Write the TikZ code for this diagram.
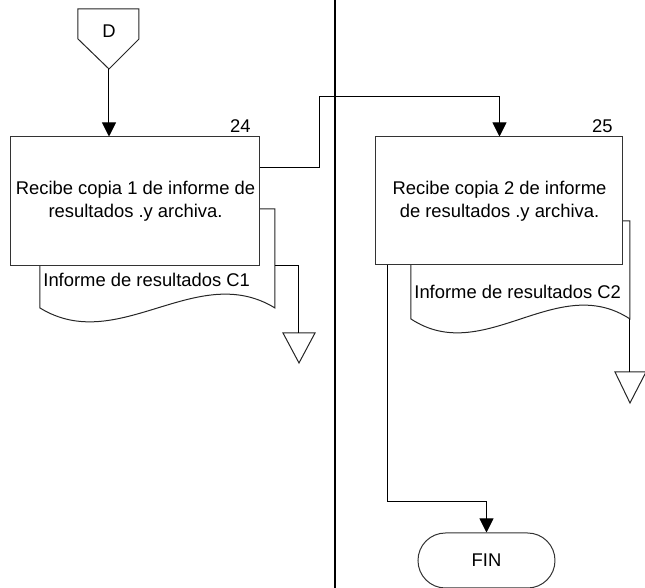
\documentclass[tikz,border=0pt]{standalone}
\usepackage{fontspec}
\setmainfont{Liberation Sans}
\usetikzlibrary{arrows.meta}
\begin{document}
\begin{tikzpicture}[x=0.5pt,y=-0.5pt,
  every node/.style={font=\fontsize{9.2pt}{11.5pt}\selectfont},
  procbox/.style={draw=black!80,fill=white,line width=0.5pt,inner sep=0pt,align=center},
  shp/.style={draw=black!85,fill=white,line width=0.5pt},
  conn/.style={draw=black,line width=0.5pt},
  arr/.style={conn,-{Triangle[length=7pt,width=7pt]}},
  lane/.style={draw=black,line width=1.1pt},
  lbl/.style={inner sep=0pt}]
\useasboundingbox (0,0) rectangle (645,588);
% swimlane divider
\coordinate (laneT) at (335,0);
\coordinate (laneB) at (335,588);
\draw[lane] (laneT) -- (laneB);
% off-page connector D
\draw[shp] (78,9) -- (139,9) -- (139,39) -- (109,69) -- (78,39) -- cycle;
\node[lbl] (D) at (109,31) {D};
\coordinate (Dtip) at (109,69);
% document 1 (behind box 1)
\draw[shp] (40,209) -- (275,209) -- (275,308)
  .. controls (196.7,260) and (118.3,356) .. (40,308) -- cycle;
\node[lbl,anchor=west] (doc1) at (43,280) {Informe de resultados C1};
\coordinate (doc1R) at (275,266);
% document 2 (behind box 2)
\draw[shp] (411,221) -- (630,221) -- (630,319)
  .. controls (557,271) and (484,367) .. (411,319) -- cycle;
\node[lbl,anchor=west] (doc2) at (414,292) {Informe de resultados C2};
\coordinate (doc2R) at (630,319);
% process boxes
\node[procbox,minimum width=124.5pt,minimum height=64.5pt] (b1) at (135.5,201.5)
  {Recibe copia 1 de informe de\\resultados .y archiva.};
\node[lbl,anchor=south east] (n24) at (251,133) {24};
\node[procbox,minimum width=123.5pt,minimum height=64pt] (b2) at (499.5,201)
  {Recibe copia 2 de informe\\de resultados .y archiva.};
\node[lbl,anchor=south east] (n25) at (613,133) {25};
% archive triangles
\draw[shp] (283,333) -- (315,333) -- (299,363) -- cycle;
\coordinate (t1) at (299,333);
\draw[shp] (615,372) -- (646,372) -- (630,403) -- cycle;
\coordinate (t2) at (630,372);
% FIN terminator
\node[procbox,minimum width=68.5pt,minimum height=27.5pt,rounded corners=13.7pt] (fin) at (486.5,560.5) {FIN};
% connectors
\draw[arr] (Dtip) -- (Dtip |- b1.north);
\draw[arr] (b1.east |- 0,168) -- (320,168) -- (320,97) -- (b2.north |- 0,97) -- (b2.north);
\draw[conn] (doc1R) -- (299,266) -- (t1);
\draw[conn] (doc2R) -- (t2);
\draw[arr] (388,265) -- (388,502) -- (fin.north |- 0,502) -- (fin.north);
\end{tikzpicture}
\end{document}
